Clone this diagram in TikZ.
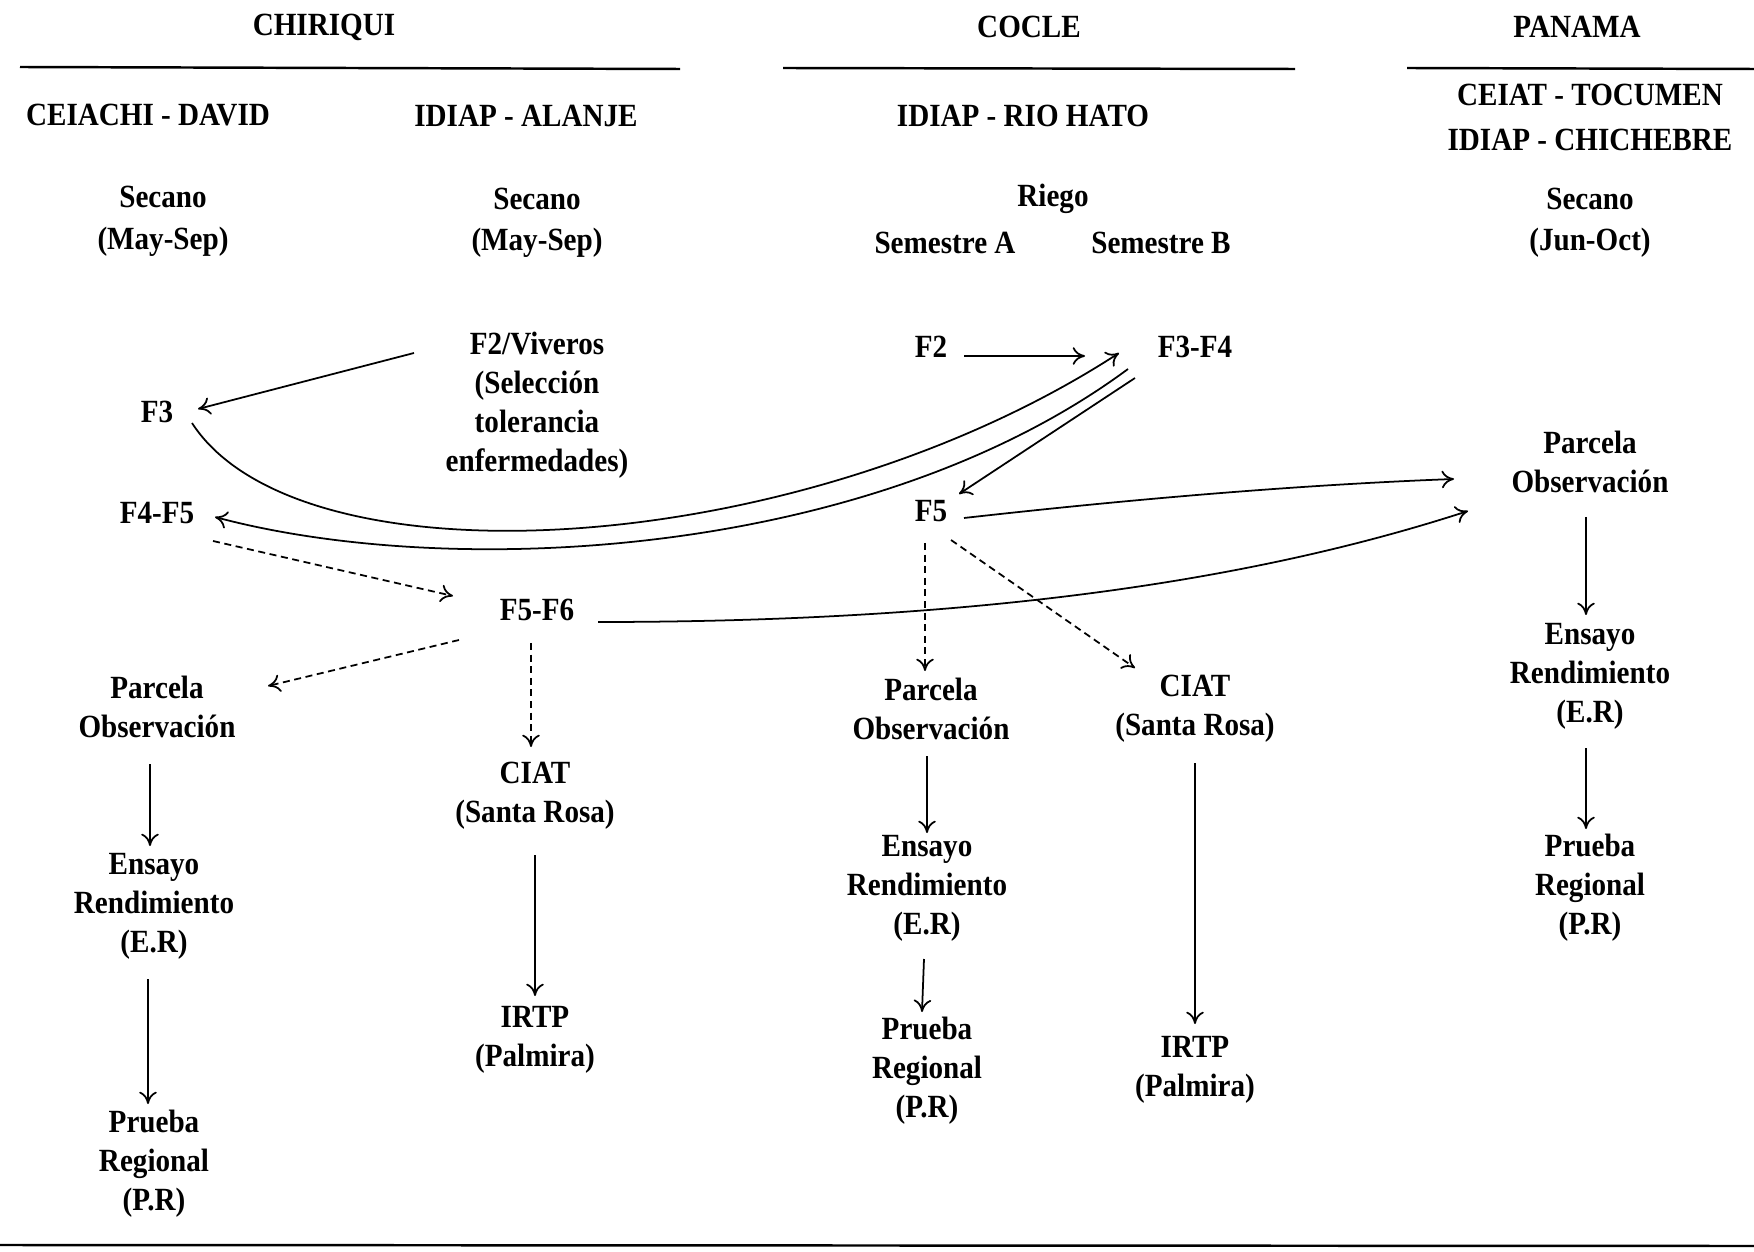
\documentclass[tikz,border=0pt]{standalone}
\usepackage{fontspec}
\setmainfont{Liberation Serif}[FakeStretch=0.9]
\usetikzlibrary{arrows.meta,calc}
\newcommand\lblfont{\fontsize{9.2}{11.1}\selectfont\bfseries}
\begin{document}
\begin{tikzpicture}[x=0.01cm,y=-0.01cm,
  lab/.style={font=\lblfont, align=center, inner sep=1pt},
  conn/.style={-{To[length=3.5pt,width=5pt]}, line width=0.5pt},
  dconn/.style={conn, dash pattern=on 2pt off 1.3pt},
  hrule/.style={line width=0.7pt}]
\useasboundingbox[fill=white] (0,0) rectangle (1754,1252);

% headers
\node[lab] (hchi) at (324,27) {CHIRIQUI};
\node[lab] (hcoc) at (1029,27) {COCLE};
\node[lab] (hpan) at (1577,27) {PANAMA};
\draw[hrule] (20,67) -- (680,69);
\draw[hrule] (783,68) -- (1295,69);
\draw[hrule] (1407,68) -- (1754,69);
\draw[hrule] (0,1245) -- (1754,1246);

\node[lab] (sdav) at (148,115) {CEIACHI - DAVID};
\node[lab] (sala) at (526,116) {IDIAP - ALANJE};
\node[lab] (srio) at (1023,116) {IDIAP - RIO HATO};
\node[lab] (stoc) at (1590,95) {CEIAT - TOCUMEN};
\node[lab] (schi) at (1590,140) {IDIAP - CHICHEBRE};

\node[lab] (sec1) at (163,197) {Secano};
\node[lab] (mon1) at (163,242) {(May-Sep)};
\node[lab] (sec2) at (537,199) {Secano};
\node[lab] (mon2) at (537,243) {(May-Sep)};
\node[lab] (rieg) at (1053,199) {Riego};
\node[lab] (sema) at (945,243) {Semestre A};
\node[lab] (semb) at (1161,243) {Semestre B};
\node[lab] (sec4) at (1590,199) {Secano};
\node[lab] (mon4) at (1590,243) {(Jun-Oct)};

% nodes
\node[lab] (fv) at (537,405) {F2/Viveros\\(Selección\\tolerancia\\enfermedades)};
\node[lab] (f3) at (157,412) {F3};
\node[lab] (f45) at (157,513) {F4-F5};
\node[lab] (f56) at (537,610) {F5-F6};
\node[lab] (po1) at (157,707) {Parcela\\Observación};
\node[lab] (er1) at (154,906) {Ensayo\\Rendimiento\\(E.R)};
\node[lab] (pr1) at (154,1164) {Prueba\\Regional\\(P.R)};
\node[lab] (ciat1) at (535,796) {CIAT\\(Santa Rosa)};
\node[lab] (irtp1) at (535,1040) {IRTP\\(Palmira)};

\node[lab] (f2) at (931,347) {F2};
\node[lab] (f34) at (1195,347) {F3-F4};
\node[lab] (f5) at (931,511) {F5};
\node[lab] (po2) at (931,709) {Parcela\\Observación};
\node[lab] (ciat2) at (1195,709) {CIAT\\(Santa Rosa)};
\node[lab] (er2) at (927,888) {Ensayo\\Rendimiento\\(E.R)};
\node[lab] (pr2) at (927,1071) {Prueba\\Regional\\(P.R)};
\node[lab] (irtp2) at (1195,1070) {IRTP\\(Palmira)};

\node[lab] (po3) at (1590,462) {Parcela\\Observación};
\node[lab] (er3) at (1590,676) {Ensayo\\Rendimiento\\(E.R)};
\node[lab] (pr3) at (1590,888) {Prueba\\Regional\\(P.R)};

% connectors
\draw[conn] ($(fv)+(-123,-52)$) -- ($(f3)+(41,-3)$);
\draw[conn] ($(f3)+(35,11)$) .. controls +(108,167) and +(-319,207) .. ($(f34)+(-76,6)$);
\draw[conn] ($(f34)+(-67,22)$) .. controls +(-258,191) and +(235,63) .. ($(f45)+(58,4)$);
\draw[conn] ($(f34)+(-60,31)$) -- ($(f5)+(28,-17)$);
\draw[conn] ($(f2)+(33,9)$) -- ($(f34)+(-110,9)$);
\draw[conn] ($(f5)+(33,7)$) .. controls +(160,-18) and +(-160,6) .. ($(po3)+(-136,17)$);
\draw[conn] ($(f56)+(61,12)$) .. controls +(400,0) and +(-200,65) .. ($(po3)+(-122,49)$);
\draw[dconn] ($(f45)+(56,28)$) -- ($(f56)+(-84,-14)$);
\draw[dconn] ($(f56)+(-78,30)$) -- ($(po1)+(111,-21)$);
\draw[dconn] ($(f56)+(-6,33)$) -- ($(ciat1)+(-4,-49)$);
\draw[conn] ($(ciat1)+(0,59)$) -- ($(irtp1)+(0,-44)$);
\draw[conn] ($(po1)+(-7,57)$) -- ($(er1)+(-4,-60)$);
\draw[conn] ($(er1)+(-6,73)$) -- ($(pr1)+(-6,-60)$);
\draw[dconn] ($(f5)+(-6,32)$) -- ($(po2)+(-6,-38)$);
\draw[dconn] ($(f5)+(20,29)$) -- ($(ciat2)+(-60,-41)$);
\draw[conn] ($(po2)+(-4,47)$) -- ($(er2)+(0,-55)$);
\draw[conn] ($(er2)+(-3,71)$) -- ($(pr2)+(-5,-59)$);
\draw[conn] ($(ciat2)+(0,54)$) -- ($(irtp2)+(0,-46)$);
\draw[conn] ($(po3)+(-4,55)$) -- ($(er3)+(-4,-61)$);
\draw[conn] ($(er3)+(-4,72)$) -- ($(pr3)+(-4,-59)$);
\end{tikzpicture}
\end{document}
